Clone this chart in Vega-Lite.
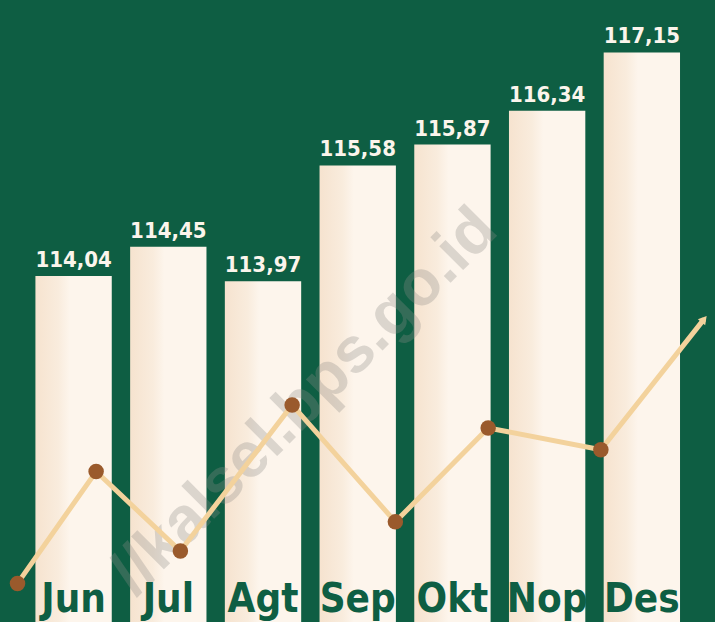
{
  "$schema": "https://vega.github.io/schema/vega-lite/v6.json",
  "autosize": {"type": "fit", "contains": "padding"},
  "width": 715,
  "height": 622,
  "padding": 0,
  "background": "#0E5E43",
  "config": {
    "view": {"stroke": null},
    "locale": {"number": {"decimal": ",", "thousands": ".", "grouping": [3], "currency": ["Rp", ""]}}
  },
  "datasets": {
    "bulan": [
      {"bulan": "Jun", "indeks": 114.04},
      {"bulan": "Jul", "indeks": 114.45},
      {"bulan": "Agt", "indeks": 113.97},
      {"bulan": "Sep", "indeks": 115.58},
      {"bulan": "Okt", "indeks": 115.87},
      {"bulan": "Nop", "indeks": 116.34},
      {"bulan": "Des", "indeks": 117.15}
    ],
    "garis": [
      {"posisi": -0.59, "nilai": 6.2, "jenis": "titik"},
      {"posisi": 0.24, "nilai": 24.2, "jenis": "titik"},
      {"posisi": 1.13, "nilai": 11.4, "jenis": "titik"},
      {"posisi": 2.31, "nilai": 34.9, "jenis": "titik"},
      {"posisi": 3.40, "nilai": 16.1, "jenis": "titik"},
      {"posisi": 4.38, "nilai": 31.2, "jenis": "titik"},
      {"posisi": 5.57, "nilai": 27.7, "jenis": "titik"},
      {"posisi": 6.66, "nilai": 48.7, "jenis": "ujung"}
    ],
    "tanda": [
      {"posisi": 2.44, "nilai": 35.4, "teks": "//kalsel.bps.go.id"}
    ]
  },
  "resolve": {"scale": {"x": "independent", "y": "independent"}},
  "layer": [
    {
      "data": {"name": "bulan"},
      "encoding": {
        "x": {"field": "bulan", "type": "nominal", "sort": null, "axis": null,
              "scale": {"type": "band", "paddingInner": 0.194, "paddingOuter": 0.34, "align": 0.55}},
        "y": {"field": "indeks", "type": "quantitative", "axis": null,
              "scale": {"domain": [109.23, 117.88], "zero": false, "nice": false}}
      },
      "layer": [
        {
          "mark": {"type": "bar",
                   "color": {"gradient": "linear", "x1": 0, "y1": 0, "x2": 1, "y2": 0,
                             "stops": [{"offset": 0, "color": "#F6E3CF"}, {"offset": 0.3, "color": "#F9ECDD"}, {"offset": 0.45, "color": "#FDF5EC"}, {"offset": 1, "color": "#FDF5EC"}]}},
          "encoding": {"y2": {"datum": 109.23}}
        },
        {
          "mark": {"type": "text", "baseline": "alphabetic", "dy": -9, "font": "DejaVu Sans Condensed, Roboto, sans-serif",
                   "fontWeight": "bold", "fontSize": 22, "color": "#FBF5EC"},
          "encoding": {"text": {"field": "indeks", "type": "quantitative", "format": ".2f"}}
        }
      ]
    },
    {
      "layer": [
        {
          "data": {"name": "tanda"},
          "mark": {"type": "text", "angle": -45, "align": "center", "baseline": "middle",
                   "font": "Liberation Sans", "fontWeight": "bold", "fontSize": 64,
                   "color": "#8E8C88", "opacity": 0.3},
          "encoding": {
            "x": {"field": "posisi", "type": "quantitative", "axis": null, "scale": {"domain": [-0.775, 6.712], "nice": false, "zero": false}},
            "y": {"field": "nilai", "type": "quantitative", "axis": null, "scale": {"domain": [0, 100], "nice": false}},
            "text": {"field": "teks"}
          }
        },
        {
          "data": {"name": "garis"},
          "encoding": {
            "x": {"field": "posisi", "type": "quantitative", "axis": null, "scale": {"domain": [-0.775, 6.712], "nice": false, "zero": false}},
            "y": {"field": "nilai", "type": "quantitative", "axis": null, "scale": {"domain": [0, 100], "nice": false}}
          },
          "layer": [
            {"mark": {"type": "line", "color": "#F3D29C", "strokeWidth": 5}},
            {"transform": [{"filter": "datum.jenis == 'titik'"}],
             "mark": {"type": "point", "filled": true, "size": 240, "color": "#9A5A2C", "opacity": 1}},
            {"transform": [{"filter": "datum.jenis == 'ujung'"}],
             "mark": {"type": "point", "shape": "triangle-up", "filled": true, "size": 90, "angle": 39, "color": "#F3D29C", "opacity": 1, "dx": -3, "dy": 4}}
          ]
        }
      ]
    },
    {
      "data": {"name": "bulan"},
      "mark": {"type": "text", "baseline": "alphabetic", "dy": -10, "font": "DejaVu Sans Condensed, Roboto, sans-serif",
               "fontWeight": "bold", "fontSize": 40, "color": "#0E5E43"},
      "encoding": {
        "x": {"field": "bulan", "type": "nominal", "sort": null, "axis": null,
              "scale": {"type": "band", "paddingInner": 0.194, "paddingOuter": 0.34, "align": 0.55}},
        "y": {"datum": 109.23, "type": "quantitative", "axis": null,
              "scale": {"domain": [109.23, 117.88], "zero": false, "nice": false}},
        "text": {"field": "bulan"}
      }
    }
  ]
}
